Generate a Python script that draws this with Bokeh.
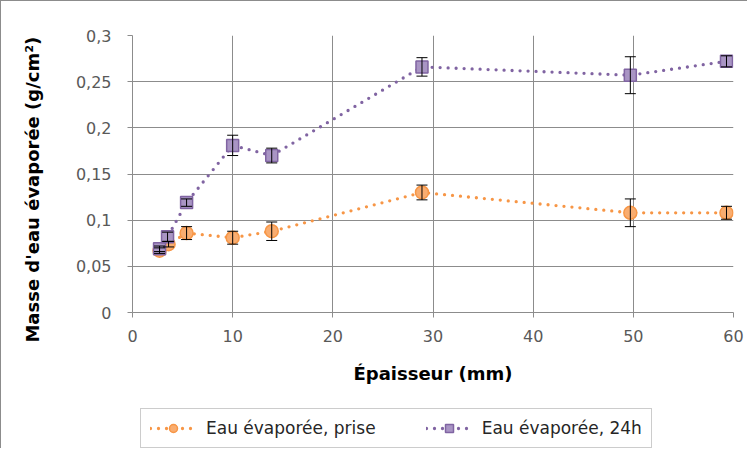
from bokeh.plotting import figure
from bokeh.layouts import column
from bokeh.models import (ColumnDataSource, Range1d, FixedTicker, Whisker, TeeHead,
                          Legend, LegendItem)
from bokeh.embed import file_html
from bokeh.resources import INLINE

# ---- data ----
x_prise = [2.7, 3.6, 5.4, 10.0, 13.9, 28.9, 49.7, 59.3]
y_prise = [0.067, 0.074, 0.086, 0.081, 0.088, 0.130, 0.108, 0.108]
err_prise = [0.003, 0.003, 0.007, 0.007, 0.010, 0.008, 0.015, 0.007]

x_24h = [2.7, 3.5, 5.4, 10.0, 13.9, 28.9, 49.7, 59.3]
y_24h = [0.069, 0.082, 0.119, 0.181, 0.170, 0.266, 0.257, 0.272]
err_24h = [0.003, 0.005, 0.004, 0.011, 0.008, 0.010, 0.020, 0.006]

series_labels = ["Eau évaporée, prise", "Eau évaporée, 24h"]
x_ticks = [0, 10, 20, 30, 40, 50, 60]
y_ticks = [0, 0.05, 0.1, 0.15, 0.2, 0.25, 0.3]
y_tick_labels = ["0", "0,05", "0,1", "0,15", "0,2", "0,25", "0,3"]
x_title = "Épaisseur (mm)"
y_title = "Masse d'eau évaporée (g/cm²)"

FONT = "DejaVu Sans"
GRID = "#8c8c8c"
ORANGE = "#f79646"
ORANGE_FILL = "#f9ad70"
PURPLE = "#8064a2"
PURPLE_FILL = "#a995c4"

LINE_KW = dict(line_width=3.3, line_dash="0 8", line_cap="round")
M1_KW = dict(marker="circle", size=13, fill_color=ORANGE_FILL, line_color=ORANGE, line_width=1.5)
M2_KW = dict(marker="square", size=12, fill_color=PURPLE_FILL, line_color=PURPLE, line_width=1.5)

p = figure(width=746, height=395, output_backend="svg", toolbar_location=None,
           x_range=Range1d(0, 60), y_range=Range1d(0, 0.3),
           min_border_left=131, min_border_right=14, min_border_top=34,
           min_border_bottom=84)
p.outline_line_color = None
p.background_fill_color = "white"
p.border_fill_color = "white"

# axes
p.xaxis.ticker = FixedTicker(ticks=x_ticks)
p.yaxis.ticker = FixedTicker(ticks=y_ticks)
p.yaxis.major_label_overrides = {t: l for t, l in zip(y_ticks, y_tick_labels)}
for ax in (p.xaxis, p.yaxis):
    ax.axis_line_color = GRID
    ax.major_tick_line_color = GRID
    ax.major_tick_out = 5
    ax.major_tick_in = 0
    ax.minor_tick_line_color = None
    ax.major_label_text_font = FONT
    ax.major_label_text_font_size = "16px"
    ax.major_label_text_color = "#595959"
    ax.axis_label_text_font = FONT
    ax.axis_label_text_font_size = "18px"
    ax.axis_label_text_font_style = "bold"
    ax.axis_label_text_color = "black"
p.xaxis.major_label_standoff = 12
p.yaxis.major_label_standoff = 16
p.xaxis.axis_label = x_title
p.xaxis.axis_label_standoff = 18
# the title sits a little below the frame centre in the reference
p.yaxis.axis_label = y_title + "\u00a0" * 5
p.yaxis.axis_label_standoff = 30

p.xgrid.grid_line_color = GRID
p.ygrid.grid_line_color = GRID
p.xgrid.grid_line_width = 1
p.ygrid.grid_line_width = 1

src_p = ColumnDataSource(dict(x=x_prise, y=y_prise,
                              lo=[a - b for a, b in zip(y_prise, err_prise)],
                              hi=[a + b for a, b in zip(y_prise, err_prise)]))
src_h = ColumnDataSource(dict(x=x_24h, y=y_24h,
                              lo=[a - b for a, b in zip(y_24h, err_24h)],
                              hi=[a + b for a, b in zip(y_24h, err_24h)]))

p.line("x", "y", source=src_p, line_color=ORANGE, **LINE_KW)
p.scatter("x", "y", source=src_p, **M1_KW)
p.line("x", "y", source=src_h, line_color=PURPLE, **LINE_KW)
p.scatter("x", "y", source=src_h, **M2_KW)

for src in (src_p, src_h):
    w = Whisker(base="x", lower="lo", upper="hi", source=src, level="annotation",
                line_color="black", line_width=1,
                upper_head=TeeHead(size=11, line_color="black", line_width=1),
                lower_head=TeeHead(size=11, line_color="black", line_width=1))
    p.add_layout(w)

# ---- legend strip below the chart (series drawn out of view, only the legend shows) ----
p2 = figure(width=746, height=52, output_backend="svg", toolbar_location=None,
            x_range=Range1d(-20, -10), y_range=Range1d(0, 1),
            x_axis_location=None, y_axis_location=None,
            min_border_left=118, min_border_right=0, min_border_top=4, min_border_bottom=0)
p2.grid.visible = False
p2.outline_line_color = None
p2.background_fill_color = "white"
p2.border_fill_color = "white"
g1 = p2.line("x", "y", source=src_p, line_color=ORANGE, **LINE_KW)
s1 = p2.scatter("x", "y", source=src_p, **M1_KW)
g2 = p2.line("x", "y", source=src_h, line_color=PURPLE, **LINE_KW)
s2 = p2.scatter("x", "y", source=src_h, **M2_KW)

legend = Legend(items=[LegendItem(label=series_labels[0], renderers=[g1, s1]),
                       LegendItem(label=series_labels[1], renderers=[g2, s2])],
                orientation="horizontal", location="top_left",
                glyph_width=46, glyph_height=20, label_standoff=10, spacing=50,
                padding=9, margin=8,
                label_text_font=FONT, label_text_font_size="17px",
                label_text_color="#262626",
                border_line_color="#9a9a9a", border_line_width=1,
                background_fill_color="white", background_fill_alpha=1)
p2.add_layout(legend)

layout = column(p, p2, spacing=0,
                styles={"border-left": "1px solid #8c8c8c", "border-top": "1px solid #8c8c8c"})
open("out.html", "w").write(file_html(layout, INLINE))
